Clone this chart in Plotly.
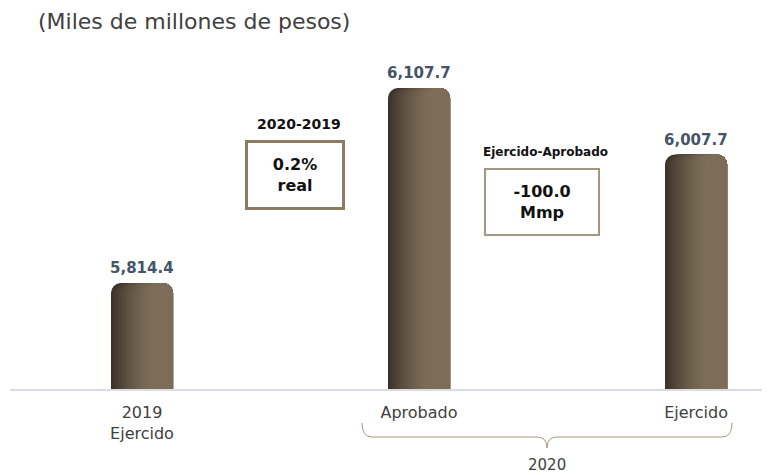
import plotly.graph_objects as go

categories = ["2019<br>Ejercido", "Aprobado", "Ejercido"]
values = [5814.4, 6107.7, 6007.7]
value_labels = ["5,814.4", "6,107.7", "6,007.7"]
group_label = "2020"
title_text = "(Miles de millones de pesos)"
box1_title = "2020-2019"
box1_text = "0.2%<br>real"
box2_title = "Ejercido-Aprobado"
box2_text = "-100.0<br>Mmp"

FONT = "DejaVu Sans"
OFF = 8  # page body margin
W, H = 770 - OFF, 475 - OFF
L, R, T, B = 10 - OFF, 0, 40 - OFF, 86
PW, PH = W - L - R, H - T - B
PLOT_LEFT_PAGE = L + OFF
PLOT_BOTTOM_PAGE = H - B + OFF
X_MIN, X_MAX = -0.4765, 2.267
PX_PER_X = PW / (X_MAX - X_MIN)

def px(x):
    return (x - PLOT_LEFT_PAGE) / PW

def py(y):
    return (PLOT_BOTTOM_PAGE - y) / PH

xs = list(range(len(categories)))

BAR_W = 0.224
# horizontal shading (style only): fine steps from dark left edge to lighter body
DARK = (0x3b, 0x32, 0x29)
LIGHT = (0x7d, 0x6d, 0x58)
N_STEPS = 22
STEP_PX = 2

def mix(t):
    t = 1 - (1 - t) ** 1.6
    return "rgb(%d,%d,%d)" % tuple(round(a + (b - a) * t) for a, b in zip(DARK, LIGHT))

fig = go.Figure()
for k in range(N_STEPS):
    d = k * STEP_PX / PX_PER_X
    fig.add_trace(go.Bar(
        x=xs, y=values, width=BAR_W - d, offset=-BAR_W / 2 + d,
        marker=dict(color=mix(k / (N_STEPS - 1)), cornerradius=10, line=dict(width=0)),
        hoverinfo="skip",
    ))

def ann(x, y, text, **kw):
    d = dict(x=x, y=y, xref="paper", yref="paper", text=text, showarrow=False,
             xanchor="center", yanchor="middle")
    d.update(kw)
    return d

annotations = []
for xi, v, lab in zip(xs, values, value_labels):
    annotations.append(dict(x=xi, y=v, xref="x", yref="y", text="<b>%s</b>" % lab,
                            showarrow=False, xanchor="center", yanchor="bottom", yshift=4,
                            font=dict(family=FONT, size=15, color="#44546A")))

annotations += [
    ann(px(36), py(21), title_text, xanchor="left",
        font=dict(family=FONT, size=22, color="#404040")),
    ann(px(299), py(124), "<b>%s</b>" % box1_title,
        font=dict(family=FONT, size=14, color="#111111")),
    ann(px(294.5), py(174.5), "<b>%s</b>" % box1_text,
        width=92, height=62, borderpad=1, borderwidth=3,
        bordercolor="#8c7a61", bgcolor="white",
        font=dict(family=FONT, size=16, color="#111111")),
    ann(px(545), py(152), "<b>%s</b>" % box2_title,
        font=dict(family=FONT, size=12, color="#111111")),
    ann(px(541.5), py(202), "<b>%s</b>" % box2_text,
        width=110, height=62, borderpad=1, borderwidth=2,
        bordercolor="#a39683", bgcolor="white",
        font=dict(family=FONT, size=16, color="#111111")),
    ann(px(547), py(465), group_label, borderpad=0,
        font=dict(family=FONT, size=15, color="#404040")),
]

pts = [("M", 362, 423), ("Q", 362, 437, 372, 437), ("L", 537, 437), ("Q", 547, 437, 547, 448),
       ("Q", 547, 437, 557, 437), ("L", 722, 437), ("Q", 732, 437, 732, 423)]
path = ""
for p in pts:
    coords = p[1:]
    s = []
    for i in range(0, len(coords), 2):
        s.append("%.5f,%.5f" % (px(coords[i]), py(coords[i + 1])))
    path += p[0] + " " + " ".join(s) + " "

fig.update_layout(
    width=W, height=H,
    margin=dict(l=L, r=R, t=T, b=B),
    paper_bgcolor="white", plot_bgcolor="white",
    showlegend=False, barmode="overlay",
    annotations=annotations,
    shapes=[dict(type="path", xref="paper", yref="paper", path=path.strip(),
                 line=dict(color="#a8987f", width=1))],
    xaxis=dict(range=[X_MIN, X_MAX], tickmode="array", tickvals=xs, ticktext=categories,
               showline=True, linecolor="#d9dde3", linewidth=2, showgrid=False, zeroline=False,
               ticks="", ticklabelstandoff=8,
               tickfont=dict(family=FONT, size=16, color="#404040"), fixedrange=True),
    yaxis=dict(range=[5655, 6180], visible=False, showgrid=False, zeroline=False),
)

fig.write_html("out.html")
